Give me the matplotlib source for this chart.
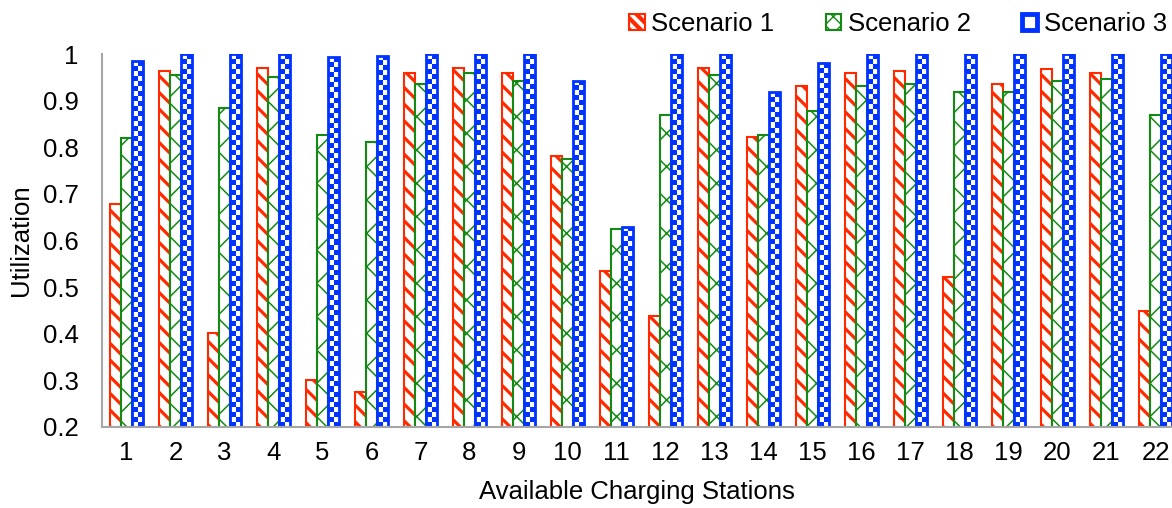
import numpy as np
import matplotlib
matplotlib.use("Agg")
import matplotlib as mpl
import matplotlib.pyplot as plt
from matplotlib.patches import Patch
from matplotlib.colors import ListedColormap

# ---- data ----
stations = list(range(1, 23))
scenario1 = [0.679, 0.963, 0.402, 0.971, 0.300, 0.275, 0.959, 0.971, 0.959, 0.781,
             0.534, 0.439, 0.971, 0.823, 0.931, 0.959, 0.964, 0.522, 0.935, 0.967,
             0.959, 0.448]
scenario2 = [0.819, 0.956, 0.885, 0.951, 0.826, 0.811, 0.935, 0.959, 0.943, 0.774,
             0.625, 0.869, 0.956, 0.827, 0.877, 0.931, 0.935, 0.918, 0.918, 0.943,
             0.947, 0.869]
scenario3 = [0.984, 1.0, 1.0, 1.0, 0.993, 0.996, 1.0, 1.0, 1.0, 0.943,
             0.629, 1.0, 1.0, 0.918, 0.980, 1.0, 1.0, 1.0, 1.0, 1.0,
             1.0, 1.0]
series_names = ["Scenario 1", "Scenario 2", "Scenario 3"]
yticks = [0.2, 0.3, 0.4, 0.5, 0.6, 0.7, 0.8, 0.9, 1.0]
ytick_labels = ["0.2", "0.3", "0.4", "0.5", "0.6", "0.7", "0.8", "0.9", "1"]

RED = "#FF2A00"
GREEN = "#138A13"
BLUE = "#0033FF"

plt.rcParams['font.family'] = ['Liberation Sans', 'DejaVu Sans']
FS = 18.5

fig = plt.figure(figsize=(11.72, 5.08), dpi=100)
ax = fig.add_axes([102 / 1172, 81 / 508, 1078 / 1172, 373 / 508])

x = np.arange(len(stations)) + 1
w = 0.225


def with_hatch_lw(artist, lw):
    orig = artist.draw

    def draw(renderer, *args, **kwargs):
        with mpl.rc_context({'hatch.linewidth': lw}):
            return orig(renderer, *args, **kwargs)
    artist.draw = draw
    if hasattr(artist, "set_hatch_linewidth"):
        artist.set_hatch_linewidth(lw)


b1 = ax.bar(x - w, scenario1, w, bottom=0, color="white", edgecolor=RED,
            linewidth=1.5, hatch="\\\\", zorder=2)
for b in b1:
    with_hatch_lw(b, 2.3)
b2 = ax.bar(x, scenario2, w, bottom=0, color="white", edgecolor=GREEN,
            linewidth=1.5, hatch="x", zorder=2)
for b in b2:
    with_hatch_lw(b, 1.1)
b3 = ax.bar(x + w, scenario3, w, bottom=0, color="none", edgecolor=BLUE,
            linewidth=2.0, zorder=3)

# checkerboard fill for Scenario 3 bars
cmap = ListedColormap(["white", BLUE])
cell_h = 0.0108
for rect, h in zip(b3, scenario3):
    top = min(h, 1.0)
    nrows = max(1, int(round((top - 0.2) / cell_h)))
    ncols = 2
    arr = (np.add.outer(np.arange(nrows), np.arange(ncols)) % 2).astype(float)
    x0 = rect.get_x()
    im = ax.imshow(arr, cmap=cmap, vmin=0, vmax=1, interpolation="nearest",
                   extent=(x0, x0 + rect.get_width(), 0.2, top),
                   origin="upper", aspect="auto", zorder=2)
    im.set_clip_path(rect)

ax.set_xlim(0.5, 22.5)
ax.set_ylim(0.2, 1.0)
ax.set_xticks(x)
ax.set_xticklabels([str(s) for s in stations], fontsize=FS)
ax.set_yticks(yticks)
ax.set_yticklabels(ytick_labels, fontsize=FS)
ax.tick_params(axis="both", length=0, colors="black")
ax.tick_params(axis="x", pad=10)
ax.tick_params(axis="y", pad=17)
for s in ["top", "right"]:
    ax.spines[s].set_visible(False)
for s in ["left", "bottom"]:
    ax.spines[s].set_color("#A6A6A6")
    ax.spines[s].set_linewidth(1.5)
    ax.spines[s].set_zorder(4)

ax.set_ylabel("Utilization", fontsize=FS)
ax.yaxis.set_label_coords(-0.064, 0.5)
ax.set_xlabel("Available Charging Stations", fontsize=FS)
ax.xaxis.set_label_coords(0.496, -0.143)

# legend
h1 = Patch(facecolor="white", edgecolor=RED, hatch="\\\\\\", linewidth=1.5)
h2 = Patch(facecolor="white", edgecolor=GREEN, hatch="xx", linewidth=1.5)
h3 = Patch(facecolor="white", edgecolor=BLUE, linewidth=3.5)
leg = fig.legend([h1, h2, h3], series_names, loc="center right",
                 bbox_to_anchor=(1167 / 1172, 1 - 24 / 508), ncol=3, frameon=False,
                 fontsize=FS, handlelength=0.6, handleheight=0.6, handletextpad=0.25,
                 columnspacing=2.0, borderpad=0, borderaxespad=0)
lh = leg.legend_handles
with_hatch_lw(lh[0], 3.0)
with_hatch_lw(lh[1], 1.0)

fig.savefig("out.png", dpi=100)
